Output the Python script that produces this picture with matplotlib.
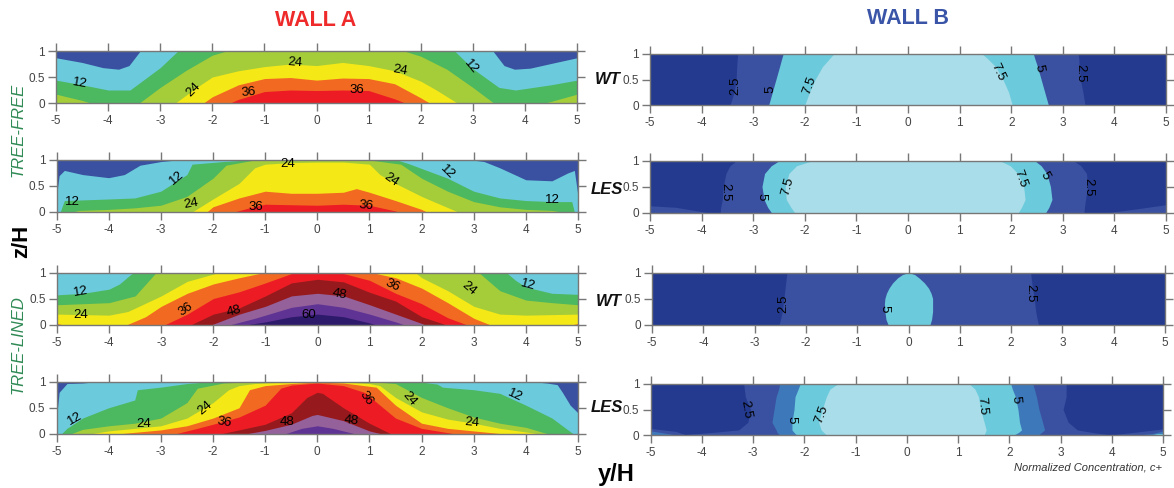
import matplotlib
matplotlib.use("Agg")
import matplotlib.pyplot as plt

plt.rcParams['font.family'] = ['Liberation Sans', 'DejaVu Sans']
W, H = 1174, 488

# colours per concentration band
BAND_A = {0: '#3a50a0', 6: '#6bcadb', 12: '#4cb860', 18: '#a5cd39', 24: '#f5e817', 30: '#f26a21',
          36: '#ed1c24', 42: '#961a1d', 48: '#94619b', 54: '#5f3393', 60: '#2e1a6b'}
BAND_B = {0: '#233a8f', 2.5: '#3a50a0', 3.75: '#3d78ba', 5: '#6bcadb', 7.5: '#a8dde9'}

# WALL A, tree-free WT : contour level -> (y/H, z/H of the contour)
a1 = {
    6: ([-5, -4.5, -4.1, -3.8, -3.6, -3.5, -3.37, 3.37, 3.5, 3.6, 3.8, 4.1, 4.5, 5],
        [.87, .78, .68, .65, .72, .85, 1.02, 1.02, .85, .72, .65, .67, .76, .87]),
    12: ([-5, -4.5, -4, -3.58, -3, -2.64, 2.63, 3, 3.5, 3.82, 4.5, 5],
         [.44, .35, .25, .25, .68, 1.02, 1.02, .66, .3, .25, .35, .44]),
    18: ([-5, -4.5, -4, -3.4, -3, -2.5, -2, -1.66, 1.62, 2, 2.5, 3, 3.4, 4, 4.5, 5],
         [.17, .05, -.1, 0, .3, .63, .92, 1.02, 1.02, .9, .65, .3, 0, -.1, .03, .17]),
    24: ([-2.71, -2.3, -2, -1.5, -1, -.5, 0, .5, 1, 1.5, 2, 2.3, 2.7],
         [0, .3, .5, .62, .7, .75, .72, .78, .72, .62, .42, .25, 0]),
    30: ([-2.17, -2, -1.5, -1, -.5, 0, .5, 1, 1.5, 2, 2.17],
         [0, .12, .35, .47, .49, .44, .48, .47, .37, .1, 0]),
    36: ([-1.66, -1.5, -1, -.5, 0, .5, 1, 1.5, 1.7],
         [0, .07, .22, .25, .24, .25, .24, .08, 0]),
}
# WALL A, tree-free LES
a2 = {
    6: ([-5, -4.95, -4.85, -4.5, -4, -3.7, -3.4, -3, -2.6, 2.9, 3.2, 3.5, 4, 4.5, 4.8, 4.93, 5],
        [.3, .7, .8, .72, .66, .72, .9, .97, 1.01, 1.01, .97, .85, .62, .6, .75, .8, .3]),
    12: ([-4.93, -4.85, -4, -3.5, -3, -2.5, -2.4, -1.8, -1.2, 1.5, 1.75, 2.5, 3, 3.5, 4, 4.5, 4.88, 4.93],
         [0, .22, .25, .27, .4, .72, .92, .97, 1.01, 1.01, .93, .65, .4, .27, .22, .2, .2, 0]),
    18: ([-4.7, -4.57, -4, -3.5, -3, -2.5, -2, -1.75, -1.2, 1, 1.6, 2, 2.5, 3, 3.5, 4, 4.5, 4.7],
         [0, .03, .05, .08, .13, .3, .65, .9, 1.0, 1.0, .92, .65, .4, .2, .1, .05, .03, 0]),
    24: ([-2.4, -2, -1.5, -1.2, -1, -.5, 0, .5, 1, 1.2, 1.5, 2, 2.7],
         [0, .25, .55, .85, .92, .95, .96, .96, .92, .72, .55, .3, 0]),
    30: ([-2.12, -2, -1.5, -1, -.5, 0, .5, .75, 1, 1.5, 2, 2.1],
         [0, .1, .27, .4, .36, .36, .38, .45, .38, .22, .05, 0]),
    36: ([-1.6, -1.3, -1, -.5, 0, .5, 1, 1.5, 1.55],
         [0, .08, .15, .14, .13, .15, .13, .02, 0]),
}
# WALL A, tree-lined WT
a3 = {
    12: ([-5, -4.5, -4, -3.8, -3.6, -3.5, 3.6, 3.8, 4, 4.5, 5],
         [.57, .6, .68, .78, .95, 1.02, 1.02, .85, .72, .6, .58]),
    18: ([-5, -4.5, -4, -3.5, -3.08, 3.07, 3.5, 4, 4.5, 5],
         [.38, .4, .42, .55, 1.02, 1.02, .65, .47, .42, .38]),
    24: ([-5, -4, -3.64, -3, -2.5, -2, -1.84, 1.85, 2, 2.5, 3, 3.5, 4, 5],
         [.2, .18, .25, .55, .83, .97, 1.02, 1.02, .9, .65, .35, .2, .18, .2]),
    30: ([-5, -4.7, -3.65, -3.3, -3, -2.5, -2, -1.5, -.93, .94, 1.5, 2, 2.5, 3, 3.3, 4.7, 5],
         [.02, -.05, 0, .15, .35, .6, .78, .9, 1.02, 1.02, .9, .7, .42, .12, 0, -.05, .02]),
    36: ([-2.92, -2.5, -2, -1.5, -1, -.5, 0, .5, 1, 1.5, 2, 2.5, 2.85],
         [0, .2, .5, .63, .8, .98, 1.05, .98, .85, .6, .4, .13, 0]),
    42: ([-2.42, -2, -1.5, -1, -.5, 0, .5, 1, 1.5, 2, 2.45],
         [0, .2, .32, .55, .8, .87, .82, .62, .45, .15, 0]),
    48: ([-2.02, -1.5, -1, -.5, 0, .5, 1, 1.5, 2, 2.05],
         [0, .2, .35, .55, .6, .55, .38, .2, .02, 0]),
    54: ([-1.66, -1.2, -1, -.5, 0, .5, 1, 1.5, 1.65],
         [0, .12, .18, .33, .4, .33, .2, .05, 0]),
    60: ([-1.33, -1, -.5, 0, .5, 1, 1.1],
         [0, .05, .15, .2, .15, .03, 0]),
}
# WALL A, tree-lined LES
a4 = {
    6: ([-5, -4.95, -4.8, -4.5, -4.2, 4.1, 4.4, 4.6, 4.7, 4.85, 5],
        [.3, .8, .97, .98, 1.01, 1.01, .98, .95, .8, .55, .4]),
    12: ([-4.9, -4.8, -4.5, -4, -3.5, -3.45, -3, -2.5, -2, 1.9, 2.3, 2.4, 3, 3.5, 4, 4.5, 4.7, 4.9],
         [0, .1, .3, .5, .65, .85, .9, .97, 1.01, 1.01, .96, .9, .85, .78, .55, .3, .15, 0]),
    18: ([-4.71, -4.5, -4, -3.5, -3, -2.5, -2.3, -1.8, -1.2, 1, 1.5, 2, 2.5, 3, 3.5, 4, 4.4],
         [0, .08, .15, .2, .3, .6, .88, .98, 1.01, 1.01, .97, .7, .5, .32, .2, .12, 0]),
    24: ([-4.31, -4, -3.5, -3, -2.5, -2, -1.7, -1.5, -1.2, 0, 1, 1.2, 1.5, 2, 2.5, 3, 3.5, 4, 4.2],
         [0, .05, .1, .15, .3, .6, .85, .93, .97, 1.03, .97, .93, .7, .42, .28, .2, .1, .03, 0]),
    30: ([-3.74, -3, -2.5, -2, -1.5, -1.3, -1, -.5, 0, .5, 1.13, 1.5, 2, 2.5, 3, 3.5],
         [0, .07, .15, .3, .5, .85, .93, .97, 1.0, .98, .9, .55, .2, .1, .05, 0]),
    36: ([-2.7, -2.3, -2, -1.5, -1, -.7, -.5, 0, .5, .9, 1, 1.5, 2, 2.6],
         [0, .1, .18, .32, .55, .88, .94, .98, .93, .8, .72, .3, .1, 0]),
    42: ([-1.83, -1.5, -1, -.5, -.2, 0, .1, .5, 1, 1.4],
         [0, .07, .18, .4, .7, .8, .78, .5, .2, 0]),
    48: ([-1.33, -1, -.5, -.1, 0, .5, 1, 1.2],
         [0, .06, .18, .35, .37, .25, .05, 0]),
    54: ([-.6, -.3, 0, .3, .7],
         [0, .1, .15, .1, 0]),
}

# WALL B : contour level -> (z/H rows, left y/H, right y/H)
b1_z = [0, .25, .5, .75, .9, 1]
b1 = {
    2.5: (b1_z, [-3.45, -3.37, -3.33, -3.32, -3.31, -3.3], [3.43, 3.39, 3.34, 3.32, 3.31, 3.3]),
    5: (b1_z, [-2.7, -2.63, -2.56, -2.49, -2.45, -2.42], [2.72, 2.65, 2.58, 2.51, 2.46, 2.43]),
    7.5: (b1_z, [-2.0, -1.91, -1.8, -1.66, -1.53, -1.44], [2.02, 1.95, 1.84, 1.7, 1.55, 1.44]),
}
b2_z = [0, .1, .25, .5, .75, .9, 1]
b2 = {
    2.5: (b2_z, [-3.64, -3.63, -3.6, -3.58, -3.53, -3.45, -3.32], [3.41, 3.42, 3.44, 3.48, 3.46, 3.35, 3.2]),
    5: (b2_z, [-2.65, -2.72, -2.79, -2.83, -2.78, -2.65, -2.49], [2.67, 2.73, 2.79, 2.76, 2.69, 2.58, 2.45]),
    7.5: (b2_z, [-2.2, -2.27, -2.36, -2.38, -2.31, -2.16, -1.84], [2.14, 2.2, 2.27, 2.24, 2.13, 1.98, 1.77]),
}
b3_2p5_z = [0, .25, .5, .75, 1]
b3_2p5_left = [-2.52, -2.46, -2.43, -2.4, -2.37]
b3_2p5_right = [2.53, 2.48, 2.45, 2.41, 2.38]
b3_5_z = [0, .1, .25, .4, .5, .6, .7, .8, .9, .96, 1]
b3_5_left = [-.4, -.44, -.46, -.47, -.46, -.43, -.38, -.31, -.21, -.12, 0]
b3_5_right = [.42, .45, .47, .47, .47, .44, .39, .31, .2, .12, 0]
b3 = {
    2.5: (b3_2p5_z, b3_2p5_left, b3_2p5_right),
    5: (b3_5_z, b3_5_left, b3_5_right),
}
b4_z = [0, .05, .1, .25, .5, .75, .9, 1]
b4 = {
    2.5: (b4_z, [-4.44, -3.8, -3.28, -3.1, -3.05, -3.15, -3.17, -3.18], [3.98, 3.62, 3.33, 3.15, 3.05, 3.11, 3.11, 3.11]),
    3.75: (b4_z, [-2.48, -2.53, -2.55, -2.63, -2.59, -2.55, -2.5, -2.48], [2.57, 2.63, 2.69, 2.65, 2.58, 2.53, 2.49, 2.46]),
    5: (b4_z, [-2.15, -2.2, -2.24, -2.24, -2.2, -2.18, -2.12, -2.08], [2.09, 2.18, 2.24, 2.2, 2.17, 2.12, 2.06, 2.03]),
    7.5: (b4_z, [-1.57, -1.62, -1.67, -1.72, -1.65, -1.57, -1.5, -1.35], [1.51, 1.53, 1.55, 1.51, 1.44, 1.4, 1.33, 1.22]),
}
# low corner wedges of the LES panels of WALL B : level -> (y/H, z/H)
b2_corner = {2.5: [([-5, -4.5, -3.9], [.13, .1, 0]), ([3.9, 4.5, 5], [0, .08, .15])]}
b4_corner = {2.5: [([-5, -4.5, -4.3], [.13, .07, 0]), ([3.98, 4.5, 5], [0, .06, .12])],
             3.75: [([-5, -4.8, -4.5], [.08, .05, 0]), ([4.5, 4.8, 5], [0, .03, .08])],
             5: [([4.75, 4.9, 5], [0, .03, .03])]}

# contour labels : text, y/H, z/H, rotation
a1_labels = [('12', -4.55, .37, -10), ('24', -.42, .78, -5), ('24', 1.6, .62, -10), ('24', -2.37, .25, 45),
             ('36', -1.3, .2, 5), ('36', .78, .25, 0), ('12', 2.97, .7, -50)]
a2_labels = [('12', -4.7, .2, 0), ('12', -2.7, .66, 40), ('24', -.57, .93, 0), ('24', 1.42, .62, -35),
             ('12', 2.5, .77, -45), ('24', -2.42, .15, 10), ('36', -1.18, .1, 0), ('36', .93, .13, -5),
             ('12', 4.5, .23, 0)]
a3_labels = [('12', -4.55, .63, 10), ('24', -4.55, .18, 0), ('36', -2.53, .3, 35), ('48', -1.6, .26, 15),
             ('60', -.17, .18, 0), ('48', .43, .58, -10), ('36', 1.43, .76, -25), ('24', 2.9, .7, -40),
             ('12', 4.03, .76, -15)]
a4_labels = [('12', -4.65, .28, 30), ('24', -3.33, .18, 0), ('24', -2.15, .5, 40), ('36', -1.78, .22, -10),
             ('48', -.57, .22, 0), ('48', .65, .24, -5), ('36', .93, .68, -55), ('24', 1.77, .68, -50),
             ('24', 2.97, .22, -5), ('12', 3.8, .73, -25)]
b1_labels = [('2.5', -3.34, .37, 90), ('5', -2.66, .3, 90), ('7.5', -1.9, .38, 70), ('7.5', 1.75, .65, -65),
             ('5', 2.53, .72, -80), ('2.5', 3.33, .62, -90)]
b2_labels = [('2.5', -3.55, .4, -90), ('5', -2.85, .3, -90), ('7.5', -2.33, .5, 75), ('7.5', 2.17, .65, -70),
             ('5', 2.65, .7, -60), ('2.5', 3.5, .48, -90)]
b3_labels = [('2.5', -2.44, .4, 90), ('5', -.47, .3, -90), ('2.5', 2.38, .6, -90)]
b4_labels = [('2.5', -3.13, .5, -80), ('5', -2.25, .31, -90), ('7.5', -1.67, .4, 70), ('7.5', 1.47, .58, -85),
             ('5', 2.13, .7, -85)]

# tick values and labels
y_ticks = [-5, -4, -3, -2, -1, 0, 1, 2, 3, 4, 5]
z_ticks = [0, .5, 1]
z_ticklabels = ['0', '0.5', '1']
row_labels = ['WT', 'LES', 'WT', 'LES']

# panel frames in pixels : left, right, top, bottom
frames_a = [(56, 577, 51, 103), (56.5, 578, 160, 212), (57, 578, 272.5, 324.5), (56.5, 578, 382, 433.5)]
frames_b = [(650, 1166, 54, 105), (650, 1166, 160.5, 212.5), (652, 1165, 272.5, 324.5), (650.5, 1163, 384, 435)]


def make_axes(fig, frame, base):
    l, r, t, b = frame
    ax = fig.add_axes([l / W, 1 - b / H, (r - l) / W, (b - t) / H], facecolor=base)
    ax.set_xlim(-5, 5)
    ax.set_ylim(0, 1)
    ax.set_xticks(y_ticks)
    ax.set_xticklabels([str(v) for v in y_ticks])
    ax.set_yticks(z_ticks)
    ax.set_yticklabels(z_ticklabels)
    ax.tick_params(axis='both', top=True, right=True, direction='out', length=5.5, width=1.0,
                   color='#777777', labelsize=8.5, labelcolor='#444444', pad=2.5)
    ax.tick_params(axis='x', pad=3.5)
    for s in ax.spines.values():
        s.set_color('#777777')
        s.set_linewidth(1.0)
        s.set_zorder(5)
    return ax


def labels(ax, items):
    for txt, y, z, rot in items:
        ax.text(y, z, txt, rotation=rot, ha='center', va='center', fontsize=9.5, color='black',
                rotation_mode='anchor', zorder=6, clip_on=False)


fig = plt.figure(figsize=(W / 100, H / 100), dpi=100, facecolor='white')

for frame, data, lab in zip(frames_a, [a1, a2, a3, a4], [a1_labels, a2_labels, a3_labels, a4_labels]):
    base = BAND_A[6] if data is a3 else BAND_A[0]
    ax = make_axes(fig, frame, base)
    for level, (y, h) in data.items():
        ax.fill_between(y, -.5, h, color=BAND_A[level], lw=0)
    labels(ax, lab)

corners = [{}, b2_corner, {}, b4_corner]
for frame, data, lab, corner in zip(frames_b, [b1, b2, b3, b4],
                                    [b1_labels, b2_labels, b3_labels, b4_labels], corners):
    ax = make_axes(fig, frame, BAND_B[0])
    for level, (z, left, right) in data.items():
        ax.fill_betweenx(z, left, right, color=BAND_B[level], lw=0)
    for level, parts in corner.items():
        for y, h in parts:
            ax.fill_between(y, -.5, h, color=BAND_B[level], lw=0)
    labels(ax, lab)


def ftext(x, y, s, **kw):
    fig.text(x / W, 1 - y / H, s, ha='center', va='center', **kw)


ftext(316, 20, 'WALL A', color='#ee2a2a', fontsize=15.5, fontweight='bold')
ftext(908, 19, 'WALL B', color='#3a55a8', fontsize=15.5, fontweight='bold')
ftext(18, 130, 'TREE-FREE', color='#2f8a55', fontsize=12, fontstyle='italic', rotation=90)
ftext(18, 345, 'TREE-LINED', color='#2f8a55', fontsize=12, fontstyle='italic', rotation=90)
ftext(22, 241, 'z/H', color='black', fontsize=16, fontweight='bold', rotation=90)
ftext(616, 475, 'y/H', color='black', fontsize=17, fontweight='bold')
ftext(1088, 467, 'Normalized Concentration, c+', color='#333333', fontsize=8, fontstyle='italic')
for name, x, y in zip(row_labels, [608, 607, 609, 607], [80, 190, 301, 408]):
    ftext(x, y, name, color='#111111', fontsize=12, fontweight='bold', fontstyle='italic')

fig.savefig('out.png', dpi=100)
